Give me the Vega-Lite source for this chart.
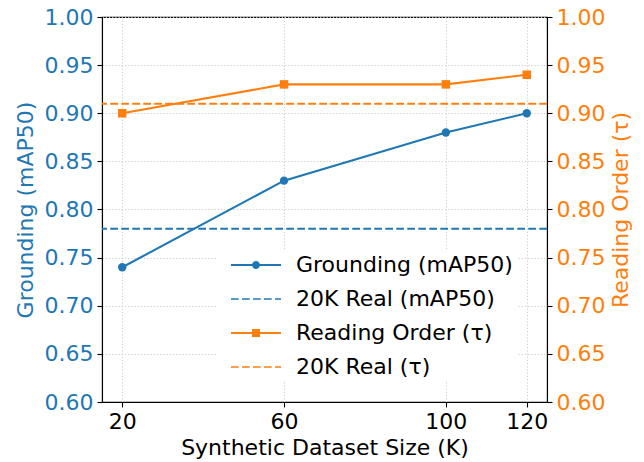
{
  "$schema": "https://vega.github.io/schema/vega-lite/v6.json",
  "width": 445,
  "height": 385,
  "autosize": "none",
  "padding": {"left": 102, "top": 17, "right": 97, "bottom": 60},
  "background": "white",
  "config": {
    "font": "DejaVu Sans",
    "view": {"stroke": "black", "strokeWidth": 1.1},
    "axis": {
      "labelFont": "DejaVu Sans",
      "titleFont": "DejaVu Sans",
      "labelFontSize": 22,
      "titleFontSize": 22,
      "titleFontWeight": "normal",
      "tickSize": 5,
      "tickWidth": 1.1,
      "labelPadding": 4,
      "domainColor": "black",
      "domainWidth": 1.1,
      "tickColor": "black",
      "labelColor": "black",
      "titleColor": "black",
      "gridColor": "#cccccc",
      "gridDash": [1.2, 2],
      "gridWidth": 1
    }
  },
  "datasets": {
    "lines": [
      {"size": 20, "value": 0.74, "series": "Grounding (mAP50)"},
      {"size": 60, "value": 0.83, "series": "Grounding (mAP50)"},
      {"size": 100, "value": 0.88, "series": "Grounding (mAP50)"},
      {"size": 120, "value": 0.90, "series": "Grounding (mAP50)"},
      {"size": 20, "value": 0.90, "series": "Reading Order (τ)"},
      {"size": 60, "value": 0.93, "series": "Reading Order (τ)"},
      {"size": 100, "value": 0.93, "series": "Reading Order (τ)"},
      {"size": 120, "value": 0.94, "series": "Reading Order (τ)"}
    ],
    "refs": [
      {"value": 0.78, "series": "20K Real (mAP50)"},
      {"value": 0.91, "series": "20K Real (τ)"}
    ]
  },
  "layer": [
    {
      "encoding": {
        "y": {
          "field": "value",
          "type": "quantitative",
          "scale": {"domain": [0.6, 1.0], "nice": false, "zero": false},
          "axis": {
            "orient": "left",
            "title": "Grounding (mAP50)",
            "values": [0.6, 0.65, 0.7, 0.75, 0.8, 0.85, 0.9, 0.95, 1.0],
            "format": ".2f",
            "labelColor": "#1f77b4",
            "titleColor": "#1f77b4",
            "grid": true,
            "titlePadding": 7
          }
        }
      },
      "layer": [
        {
          "data": {"name": "lines"},
          "transform": [{"filter": "datum.series === 'Grounding (mAP50)'"}],
          "mark": {"type": "line", "strokeWidth": 2.1, "point": {"filled": true, "size": 70, "shape": "circle", "opacity": 1}},
          "encoding": {
            "x": {
              "field": "size",
              "type": "quantitative",
              "scale": {"domain": [15, 125], "nice": false, "zero": false},
              "axis": {"title": "Synthetic Dataset Size (K)", "values": [20, 60, 100, 120], "grid": true, "titlePadding": 5}
            },
            "color": {
              "field": "series",
              "type": "nominal",
              "scale": {
                "domain": ["Grounding (mAP50)", "20K Real (mAP50)", "Reading Order (τ)", "20K Real (τ)"],
                "range": ["#1f77b4", "#1f77b4", "#ff7f0e", "#ff7f0e"]
              },
              "legend": {
                "title": null,
                "orient": "none",
                "legendX": 114,
                "legendY": 233,
                "padding": 4,
                "fillColor": "white",
                "strokeColor": null,
                "labelFont": "DejaVu Sans",
                "labelFontSize": 22,
                "labelColor": "black",
                "labelLimit": 400,
                "labelOffset": 54,
                "symbolSize": 100,
                "rowPadding": 12,
                "encode": {
                  "symbols": {
                    "update": {
                      "shape": {"signal": "datum.value === 'Grounding (mAP50)' ? 'M0,-0.2H10V0.2H0Z M5.8,0A0.8,0.8 0 1,1 4.2,0A0.8,0.8 0 1,1 5.8,0Z' : datum.value === 'Reading Order (τ)' ? 'M0,-0.2H10V0.2H0Z M4.2,-0.8H5.8V0.8H4.2Z' : 'M0,-0.15H1.54V0.15H0Z M2.2,-0.15H3.74V0.15H2.2Z M4.4,-0.15H5.94V0.15H4.4Z M6.6,-0.15H8.14V0.15H6.6Z M8.8,-0.15H10V0.15H8.8Z'"},
                      "fill": {"signal": "scale('color', datum.value)"},
                      "stroke": {"value": "transparent"},
                      "strokeWidth": {"value": 0},
                      "opacity": {"value": 1},
                      "size": {"value": 100}
                    }
                  }
                }
              }
            }
          }
        },
        {
          "data": {"name": "refs"},
          "transform": [{"filter": "datum.series === '20K Real (mAP50)'"}],
          "mark": {"type": "rule", "strokeWidth": 2, "strokeDash": [7.7, 3.3]},
          "encoding": {
            "color": {
              "field": "series",
              "type": "nominal",
              "scale": {
                "domain": ["Grounding (mAP50)", "20K Real (mAP50)", "Reading Order (τ)", "20K Real (τ)"],
                "range": ["#1f77b4", "#1f77b4", "#ff7f0e", "#ff7f0e"]
              }
            }
          }
        }
      ]
    },
    {
      "encoding": {
        "y": {
          "field": "value",
          "type": "quantitative",
          "scale": {"domain": [0.6, 1.0], "nice": false, "zero": false},
          "axis": {
            "orient": "right",
            "title": "Reading Order (τ)",
            "values": [0.6, 0.65, 0.7, 0.75, 0.8, 0.85, 0.9, 0.95, 1.0],
            "format": ".2f",
            "labelColor": "#ff7f0e",
            "titleColor": "#ff7f0e",
            "grid": false,
            "titleAngle": 270,
            "titleBaseline": "top",
            "titlePadding": 6
          }
        }
      },
      "layer": [
        {
          "data": {"name": "lines"},
          "transform": [{"filter": "datum.series === 'Reading Order (τ)'"}],
          "mark": {"type": "line", "strokeWidth": 2.1, "point": {"filled": true, "size": 72, "shape": "square", "opacity": 1}},
          "encoding": {
            "x": {"field": "size", "type": "quantitative", "scale": {"domain": [15, 125], "nice": false, "zero": false}},
            "color": {
              "field": "series",
              "type": "nominal",
              "scale": {
                "domain": ["Grounding (mAP50)", "20K Real (mAP50)", "Reading Order (τ)", "20K Real (τ)"],
                "range": ["#1f77b4", "#1f77b4", "#ff7f0e", "#ff7f0e"]
              }
            }
          }
        },
        {
          "data": {"name": "refs"},
          "transform": [{"filter": "datum.series === '20K Real (τ)'"}],
          "mark": {"type": "rule", "strokeWidth": 2, "strokeDash": [7.7, 3.3]},
          "encoding": {
            "color": {
              "field": "series",
              "type": "nominal",
              "scale": {
                "domain": ["Grounding (mAP50)", "20K Real (mAP50)", "Reading Order (τ)", "20K Real (τ)"],
                "range": ["#1f77b4", "#1f77b4", "#ff7f0e", "#ff7f0e"]
              }
            }
          }
        }
      ]
    }
  ],
  "resolve": {"scale": {"y": "independent"}}
}
